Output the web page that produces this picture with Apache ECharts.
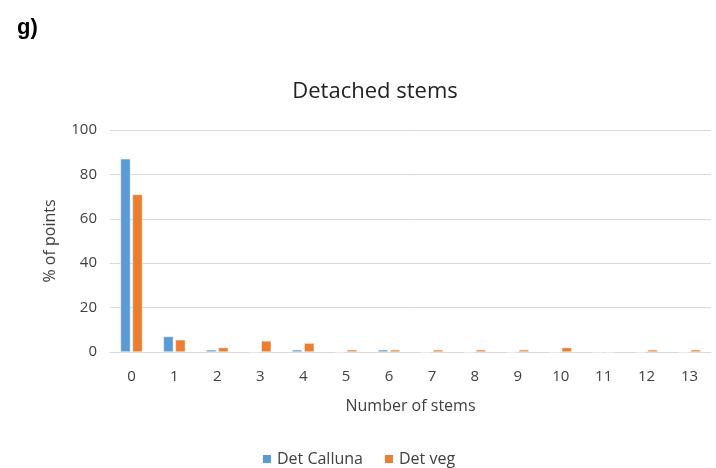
<!DOCTYPE html>
<html>
<head>
<meta charset="utf-8">
<script src="https://cdn.jsdelivr.net/npm/echarts@6/dist/echarts.min.js"></script>
<style>
  html, body { margin: 0; padding: 0; background: #fff; }
  #chart { width: 716px; height: 468px; }
</style>
</head>
<body>
<div id="chart"></div>
<script>
const categories = ['0', '1', '2', '3', '4', '5', '6', '7', '8', '9', '10', '11', '12', '13'];
const detCalluna = [87, 7, 1, 0, 1, 0, 1, 0, 0, 0, 0, 0, 0, 0];
const detVeg = [71, 5.5, 2, 5, 4, 1, 1, 1, 1, 1, 2, 0, 1, 1];

const fontFamily = '"Open Sans", "Noto Sans", sans-serif';
const textColor = '#404040';

const chart = echarts.init(document.getElementById('chart'));

const options = {
  backgroundColor: '#fff',
  animation: false,
  title: [
    {
      text: 'g)',
      left: 12,
      top: 12,
      textStyle: { fontFamily: 'Liberation Sans, Arial, sans-serif', fontWeight: 'bold', fontSize: 22, color: '#000' },
    },
    {
      text: 'Detached stems',
      left: 370,
      top: 76,
      textAlign: 'center',
      textStyle: { fontFamily, fontWeight: 'normal', fontSize: 22, color: '#222' },
    },
  ],
  legend: {
    top: 446,
    left: 'center',
    itemWidth: 10,
    itemHeight: 10,
    itemGap: 20,
    icon: 'rect',
    textStyle: { fontFamily, fontSize: 16, color: textColor },
  },
  grid: {
    left: 110,
    right: 5,
    top: 130,
    bottom: 116,
  },
  xAxis: {
    type: 'category',
    data: categories,
    name: 'Number of stems',
    nameLocation: 'middle',
    nameGap: 46,
    nameTextStyle: { fontFamily, fontSize: 16, color: textColor },
    axisLine: { lineStyle: { color: '#d9d9d9' } },
    axisTick: { show: false },
    axisLabel: { fontFamily, fontSize: 15, color: textColor, margin: 17 },
  },
  yAxis: {
    type: 'value',
    min: 0,
    max: 100,
    interval: 20,
    name: '% of points',
    nameLocation: 'middle',
    nameGap: 52,
    nameTextStyle: { fontFamily, fontSize: 16, color: textColor },
    axisLine: { show: false },
    axisTick: { show: false },
    axisLabel: { fontFamily, fontSize: 15, color: textColor, margin: 13 },
    splitLine: { lineStyle: { color: '#d9d9d9' } },
  },
  series: [
    {
      name: 'Det Calluna',
      type: 'bar',
      data: detCalluna,
      barWidth: 10,
      barGap: '20%',
      itemStyle: { color: '#5B9BD5', borderColor: '#fff', borderWidth: 0.5 },
    },
    {
      name: 'Det veg',
      type: 'bar',
      data: detVeg,
      barWidth: 10,
      barGap: '20%',
      itemStyle: { color: '#ED7D31', borderColor: '#fff', borderWidth: 0.5 },
    },
  ],
};

chart.setOption(options);
</script>
</body>
</html>
